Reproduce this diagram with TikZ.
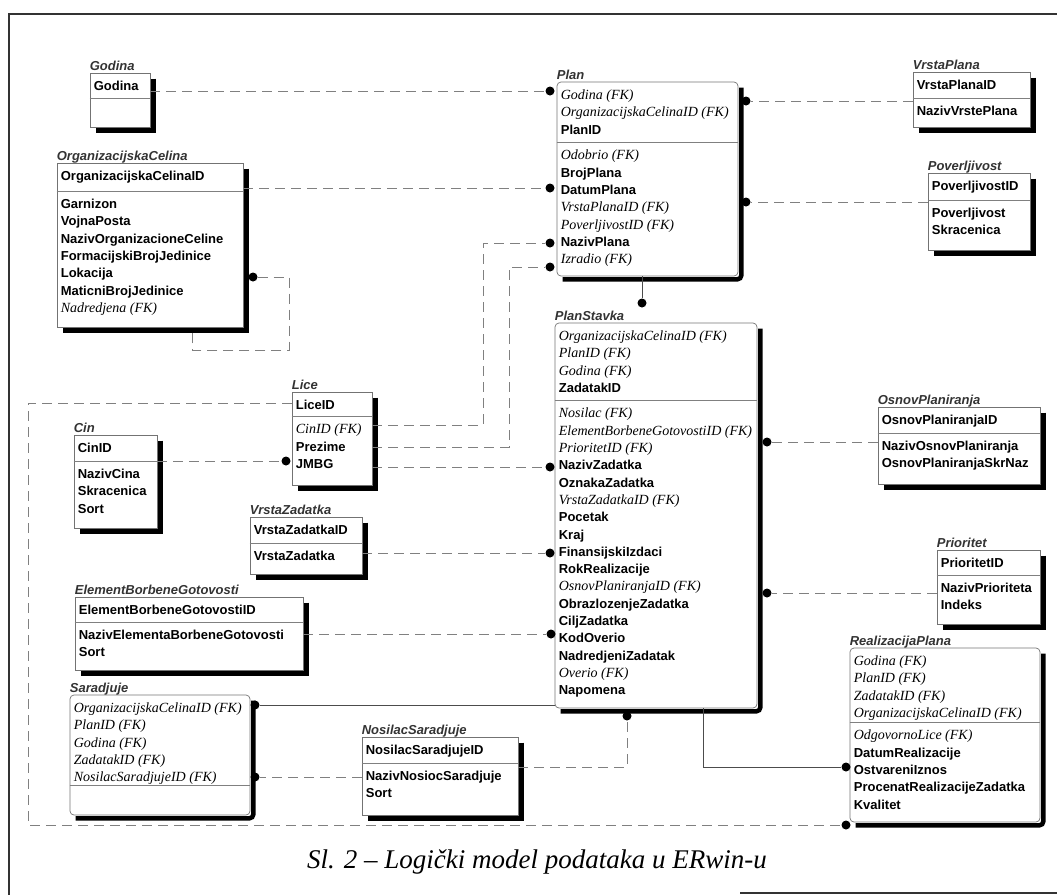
\documentclass[tikz,border=0pt]{standalone}
\usepackage{fontspec}
\setmainfont{Liberation Serif}
\setsansfont{Liberation Sans}
\usepackage{tikz}
\usetikzlibrary{calc,fit,positioning}
\tikzset{
        entbox/.style = {draw=black!55, line width=0.7pt, inner sep=0pt},
        dependent/.style = {rounded corners=4pt},
        entshadow/.style = {draw=black, line width=4.5pt},
        keyline/.style = {draw=black!50, line width=0.7pt},
        enttitle/.style = {font=\sffamily\bfseries\itshape\fontsize{13}{15}\selectfont,
            text=black!80, inner sep=0pt, anchor=base west},
        attrs/.style = {font=\sffamily\bfseries\fontsize{13}{17.3}\selectfont,
            align=left, inner sep=0pt, anchor=north west},
        rel/.style = {draw=black!50, line width=1pt, dash pattern=on 10pt off 6pt},
        idrel/.style = {draw=black!70, line width=1pt},
        reldot/.style = {circle, fill=black, inner sep=0pt, minimum size=9pt},
        pageframe/.style = {draw=black!80, line width=1.6pt},
        capt/.style = {font=\rmfamily\itshape\fontsize{27}{30}\selectfont, inner sep=0pt},
    }
\newcommand{\fk}[1]{{\rmfamily\mdseries\itshape\fontsize{14}{17.3}\selectfont #1}}
% #1 style, #2 name, #3 corners, #4 key line, #5 title, #6 keys, #7 attributes
\newcommand{\entity}[7]{%
  \node[entbox, #1, fit={#3}] (#2) {};
  \draw[entshadow, #1] ($(#2.north east)+(3,6)$) -- ($(#2.south east)+(3,3)$) -- ($(#2.south west)+(6,3)$);
  \draw[keyline] (#2.west |- 0,#4) -- (#2.east |- 0,#4);
  \node[enttitle] (#2-t) at ($(#2.north west)+(0,-2)$) {#5};
  \node[attrs] (#2-k) at ($(#2.north west)+(4,8)$) {#6};
  \node[attrs] (#2-a) at ($(#2.west |- 0,#4)+(4,8)$) {#7};
}

\begin{document}
\begin{tikzpicture}[x=1pt, y=-1pt]
    \useasboundingbox (0,0) rectangle (1057,895);
    \draw[pageframe] (8,14) -- (1057,14);
    \draw[pageframe] (9,14) -- (9,895);
    \draw[pageframe] (740,893) -- (1057,893);

    % entities
    \entity{}{godina}{(90,73) (150,127)}{98}{Godina}{Godina}{}
    \entity{}{orgcel}{(57,163) (243,327)}{191}{OrganizacijskaCelina}{OrganizacijskaCelinaID}
        {Garnizon\\VojnaPosta\\NazivOrganizacioneCeline\\FormacijskiBrojJedinice\\Lokacija\\MaticniBrojJedinice\\\fk{Nadredjena (FK)}}
    \entity{dependent}{plan}{(557,82) (738,276)}{142}{Plan}
        {\fk{Godina (FK)}\\\fk{OrganizacijskaCelinaID (FK)}\\PlanID}
        {\fk{Odobrio (FK)}\\BrojPlana\\DatumPlana\\\fk{VrstaPlanaID (FK)}\\\fk{PoverljivostID (FK)}\\NazivPlana\\\fk{Izradio (FK)}}
    \entity{}{vrstaplana}{(913,72) (1030,127)}{98}{VrstaPlana}{VrstaPlanaID}{NazivVrstePlana}
    \entity{}{poverljivost}{(928,173) (1030,250)}{200}{Poverljivost}{PoverljivostID}{Poverljivost\\Skracenica}
    \entity{dependent}{planstavka}{(555,323) (757,708)}{400}{PlanStavka}
        {\fk{OrganizacijskaCelinaID (FK)}\\\fk{PlanID (FK)}\\\fk{Godina (FK)}\\ZadatakID}
        {\fk{Nosilac (FK)}\\\fk{ElementBorbeneGotovostiID (FK)}\\\fk{PrioritetID (FK)}\\NazivZadatka\\OznakaZadatka\\\fk{VrstaZadatkaID (FK)}\\Pocetak\\Kraj\\FinansijskiIzdaci\\RokRealizacije\\\fk{OsnovPlaniranjaID (FK)}\\ObrazlozenjeZadatka\\CiljZadatka\\KodOverio\\NadredjeniZadatak\\\fk{Overio (FK)}\\Napomena}
    \entity{}{osnovplan}{(878,407) (1040,484)}{433}{OsnovPlaniranja}{OsnovPlaniranjaID}{NazivOsnovPlaniranja\\OsnovPlaniranjaSkrNaz}
    \entity{}{prioritet}{(937,550) (1040,624)}{575}{Prioritet}{PrioritetID}{NazivPrioriteta\\Indeks}
    \entity{dependent}{realizacija}{(850,648) (1040,822)}{722}{RealizacijaPlana}
        {\fk{Godina (FK)}\\\fk{PlanID (FK)}\\\fk{ZadatakID (FK)}\\\fk{OrganizacijskaCelinaID (FK)}}
        {\fk{OdgovornoLice (FK)}\\DatumRealizacije\\OstvareniIznos\\ProcenatRealizacijeZadatka\\Kvalitet}
    \entity{}{lice}{(292,392) (372,485)}{416}{Lice}{LiceID}{\fk{CinID (FK)}\\Prezime\\JMBG}
    \entity{}{cin}{(74,435) (157,528)}{461}{Cin}{CinID}{NazivCina\\Skracenica\\Sort}
    \entity{}{vrstazad}{(250,517) (362,574)}{543}{VrstaZadatka}{VrstaZadatkaID}{VrstaZadatka}
    \entity{}{ebg}{(75,597) (303,670)}{622}{ElementBorbeneGotovosti}{ElementBorbeneGotovostiID}{NazivElementaBorbeneGotovosti\\Sort}
    \entity{dependent}{saradjuje}{(70,695) (250,815)}{785}{Saradjuje}
        {\fk{OrganizacijskaCelinaID (FK)}\\\fk{PlanID (FK)}\\\fk{Godina (FK)}\\\fk{ZadatakID (FK)}\\\fk{NosilacSaradjujeID (FK)}}{}
    \entity{}{nosilac}{(362,737) (518,815)}{763}{NosilacSaradjuje}{NosilacSaradjujeID}{NazivNosiocSaradjuje\\Sort}

    % relationship ends
    \node[reldot] (gp) at (550,91) {};
    \node[reldot] (op) at (550,188) {};
    \node[reldot] (lp1) at (550,243) {};
    \node[reldot] (lp2) at (550,267) {};
    \node[reldot] (pps) at (642,303) {};
    \node[reldot] (vp) at (746,101) {};
    \node[reldot] (pv) at (746,202) {};
    \node[reldot] (oo) at (253,277) {};
    \node[reldot] (cl) at (286,461) {};
    \node[reldot] (lps) at (550,467) {};
    \node[reldot] (vzps) at (550,553) {};
    \node[reldot] (eps) at (551,634) {};
    \node[reldot] (pso) at (767,442) {};
    \node[reldot] (psp) at (767,593) {};
    \node[reldot] (pss) at (255,705) {};
    \node[reldot] (nss) at (255,777) {};
    \node[reldot] (nps) at (627,716) {};
    \node[reldot] (psr) at (846,767) {};
    \node[reldot] (lr) at (846,825) {};

    % relationships
    \draw[rel] (godina.east |- gp) -- (gp);
    \draw[rel] (orgcel.east |- op) -- (op);
    \draw[rel] (oo) -- (289,277) -- (289,350) -- (192,350) -- (orgcel.south -| 192,0);
    \draw[rel] (lice.east |- 0,425) -| (483,243) -- (lp1);
    \draw[rel] (lice.east |- 0,447) -| (509,267) -- (lp2);
    \draw[rel] (lice.east |- lps) -- (lps);
    \draw[rel] (cin.east |- cl) -- (cl);
    \draw[rel] (vrstazad.east |- vzps) -- (vzps);
    \draw[rel] (ebg.east |- eps) -- (eps);
    \draw[rel] (vrstaplana.west |- vp) -- (vp);
    \draw[rel] (poverljivost.west |- pv) -- (pv);
    \draw[rel] (osnovplan.west |- pso) -- (pso);
    \draw[rel] (prioritet.west |- psp) -- (psp);
    \draw[idrel] (plan.south -| pps) -- (pps);
    \draw[idrel] (planstavka.west |- pss) -- (pss);
    \draw[rel] (nosilac.west |- nss) -- (nss);
    \draw[rel] (nosilac.east |- 0,767) -| (nps);
    \draw[idrel] (planstavka.south -| 703,0) |- (psr);
    \draw[rel] (lice.west |- 0,403) -| (28,825) -- (lr);

    \node[capt] (cap) at (537,862) {Sl. 2 -- Logički model podataka u ERwin-u};
\end{tikzpicture}
\end{document}
